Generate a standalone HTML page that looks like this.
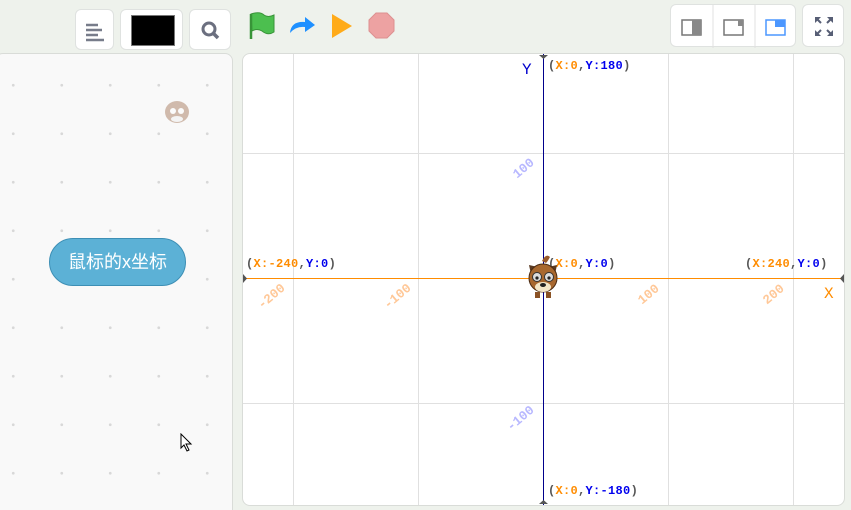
<!DOCTYPE html>
<html style="overflow:hidden;width:851px;height:510px"><head><meta charset="utf-8">
<style>
body{margin:0;width:851px;height:510px;background:#eef2ec;position:relative;overflow:hidden;font-family:"Liberation Sans","Noto Sans CJK SC",sans-serif}
.btn{position:absolute;background:#fff;border:1px solid #dfe2e0;border-radius:6px;box-sizing:border-box}
.lbl{position:absolute;font:bold 12px "Liberation Mono",monospace;color:#555;white-space:nowrap;letter-spacing:0.3px}
.o{color:#ff8c00}.b{color:#0000ee}
.diag{position:absolute;font:bold 13px "Liberation Mono",monospace;transform:rotate(-40deg);white-space:nowrap}
</style></head><body>
<div class="btn" style="left:75px;top:9px;width:39px;height:41px">
<svg width="39" height="41"><g stroke="#777c8a" stroke-width="2.5"><line x1="10" y1="15" x2="22" y2="15"/><line x1="10" y1="20" x2="26" y2="20"/><line x1="10" y1="25" x2="22" y2="25"/><line x1="10" y1="30" x2="28" y2="30"/></g></svg></div>
<div class="btn" style="left:120px;top:9px;width:63px;height:41px"><div style="position:absolute;left:10px;top:5px;width:42px;height:29px;background:#000;border:1px solid #777"></div></div>
<div class="btn" style="left:189px;top:9px;width:42px;height:41px">
<svg width="42" height="41"><circle cx="19" cy="19" r="6" fill="none" stroke="#6b6f7f" stroke-width="3"/><line x1="23" y1="23" x2="28" y2="28" stroke="#6b6f7f" stroke-width="3.5"/></svg></div>
<svg style="position:absolute;left:248px;top:12px" width="28" height="28"><path d="M3 2 Q12 -1 16 3 Q20 6 26 3 L26 20 Q20 24 14 19 Q9 16 4 19 Z" fill="#4cbf4f" stroke="#389438"/><line x1="3" y1="2" x2="3" y2="27" stroke="#389438" stroke-width="2.5"/></svg>
<svg style="position:absolute;left:287px;top:13px" width="30" height="24"><path d="M3 20 Q4 8 18 9 L18 4 L28 12 L18 19 L18 14 Q9 13 3 20Z" fill="#1e90ff"/></svg>
<svg style="position:absolute;left:330px;top:12px" width="24" height="28"><path d="M2 2 L22 14 L2 26Z" fill="#ffab19"/></svg>
<svg style="position:absolute;left:368px;top:12px" width="27" height="27"><polygon points="8,1 19,1 26,8 26,19 19,26 8,26 1,19 1,8" fill="#eda2a2" stroke="#dd9090"/></svg>
<div class="btn" style="left:670px;top:4px;width:126px;height:43px">
<svg width="126" height="43"><rect x="11" y="15" width="19" height="15" fill="#fff" stroke="#777" stroke-width="1.5"/><rect x="21" y="15" width="9" height="15" fill="#888"/><line x1="42" y1="0" x2="42" y2="43" stroke="#e0e0e0"/><rect x="53" y="15" width="19" height="15" fill="#fff" stroke="#777" stroke-width="1.5"/><rect x="67" y="15" width="5" height="6" fill="#888"/><line x1="84" y1="0" x2="84" y2="43" stroke="#e0e0e0"/><rect x="95" y="15" width="19" height="15" fill="#fff" stroke="#4c97ff" stroke-width="1.5"/><rect x="104" y="15" width="10" height="7" fill="#4c97ff"/></svg></div>
<div class="btn" style="left:802px;top:4px;width:42px;height:43px">
<svg width="42" height="43" fill="#575e75"><path d="M12 12h6l-6 6z M30 12v6l-6-6z M12 31v-6l6 6z M30 31h-6l6-6z"/><g stroke="#575e75" stroke-width="2"><line x1="13" y1="13" x2="18" y2="18"/><line x1="29" y1="13" x2="24" y2="18"/><line x1="13" y1="30" x2="18" y2="25"/><line x1="29" y1="30" x2="24" y2="25"/></g></svg></div>

<div style="position:absolute;left:-5px;top:53px;width:236px;height:466px;background:#f9f9f9;border:1px solid #d9dcd8;border-radius:8px;background-image:radial-gradient(circle,#d8d8d8 1.2px,transparent 1.6px);background-size:48.5px 48.5px;background-position:-7px 7px"></div>
<div style="position:absolute;left:163px;top:92px;width:28px;height:36px;opacity:.45">
<svg width="28" height="36"><ellipse cx="14" cy="20" rx="12" ry="11" fill="#a07050"/><circle cx="10" cy="19" r="3" fill="#fff"/><circle cx="18" cy="19" r="3" fill="#fff"/><ellipse cx="14" cy="27" rx="6" ry="3" fill="#eee"/></svg></div>
<div style="position:absolute;left:49px;top:238px;width:137px;height:48px;background:#5cb1d6;border:1px solid #3d8fb5;border-radius:24px;box-sizing:border-box;color:#fff;font-size:18px;line-height:46px;text-align:center">鼠标的x坐标</div>
<svg style="position:absolute;left:180px;top:433px" width="14" height="20"><path d="M1 1 L1 15 L4 12 L7 18 L9 17 L6 11 L11 11Z" fill="#fff" stroke="#000"/></svg>

<div style="position:absolute;left:242px;top:53px;width:601px;height:451px;background:#fff;border:1px solid #d9dcd8;border-radius:8px;overflow:hidden">
<svg width="601" height="451" style="position:absolute;left:0;top:0">
<g stroke="#e0e0e0" stroke-width="1"><line x1="50.5" y1="0" x2="50.5" y2="451"/><line x1="175.5" y1="0" x2="175.5" y2="451"/><line x1="425.5" y1="0" x2="425.5" y2="451"/><line x1="550.5" y1="0" x2="550.5" y2="451"/><line x1="0" y1="99.5" x2="601" y2="99.5"/><line x1="0" y1="349.5" x2="601" y2="349.5"/></g>
<line x1="0" y1="224.5" x2="601" y2="224.5" stroke="#ff8c00" stroke-width="1"/>
<line x1="300.5" y1="0" x2="300.5" y2="451" stroke="#00008b" stroke-width="1"/>
<path d="M296 1h9l-4.5 4z M296 450h9l-4.5-4z M0 220v9l4-4.5z M601 220v9l-4-4.5z" fill="#555"/>
</svg>
<div class="lbl" style="left:279px;top:7px;font-size:16px;color:#0000cc;font-weight:normal">Y</div>
<div class="lbl" style="left:581px;top:231px;font-size:16px;color:#ff8c00;font-weight:normal">X</div>
<div class="lbl" style="left:305px;top:5px">(<span class="o">X:0</span>,<span class="b">Y:180</span>)</div>
<div class="lbl" style="left:305px;top:430px">(<span class="o">X:0</span>,<span class="b">Y:-180</span>)</div>
<div class="lbl" style="left:3px;top:203px">(<span class="o">X:-240</span>,<span class="b">Y:0</span>)</div>
<div class="lbl" style="left:502px;top:203px">(<span class="o">X:240</span>,<span class="b">Y:0</span>)</div>
<div class="lbl" style="left:305px;top:203px">(<span class="o">X:0</span>,<span class="b">Y:0</span>)</div>
<div class="diag" style="left:13px;top:235px;color:#ffc898">-200</div>
<div class="diag" style="left:139px;top:235px;color:#ffc898">-100</div>
<div class="diag" style="left:394px;top:233px;color:#ffc898">100</div>
<div class="diag" style="left:519px;top:233px;color:#ffc898">200</div>
<div class="diag" style="left:269px;top:107px;color:#b8b8ff">100</div>
<div class="diag" style="left:262px;top:357px;color:#b8b8ff">-100</div>
<svg style="position:absolute;left:281px;top:199px" width="38" height="48">
<path d="M18 8 Q22 0 26 4 Q24 8 22 10Z" fill="#9a5b2c"/>
<path d="M5 12 L8 26 L14 14Z M33 12 L30 26 L24 14Z" fill="#5a3a22"/>
<ellipse cx="19" cy="25" rx="14" ry="14" fill="#a8682f" stroke="#4a2a12"/>
<circle cx="13" cy="24" r="4.5" fill="#ddd" stroke="#333"/><circle cx="25" cy="24" r="4.5" fill="#ddd" stroke="#333"/>
<circle cx="13" cy="25" r="1.6" fill="#222"/><circle cx="25" cy="25" r="1.6" fill="#222"/>
<ellipse cx="19" cy="34" rx="8" ry="5" fill="#f3e6c8"/><ellipse cx="19" cy="32" rx="3" ry="2" fill="#222"/>
<rect x="11" y="39" width="5" height="6" fill="#8a5224"/><rect x="22" y="39" width="5" height="6" fill="#8a5224"/>
</svg>
</div>
</body></html>
